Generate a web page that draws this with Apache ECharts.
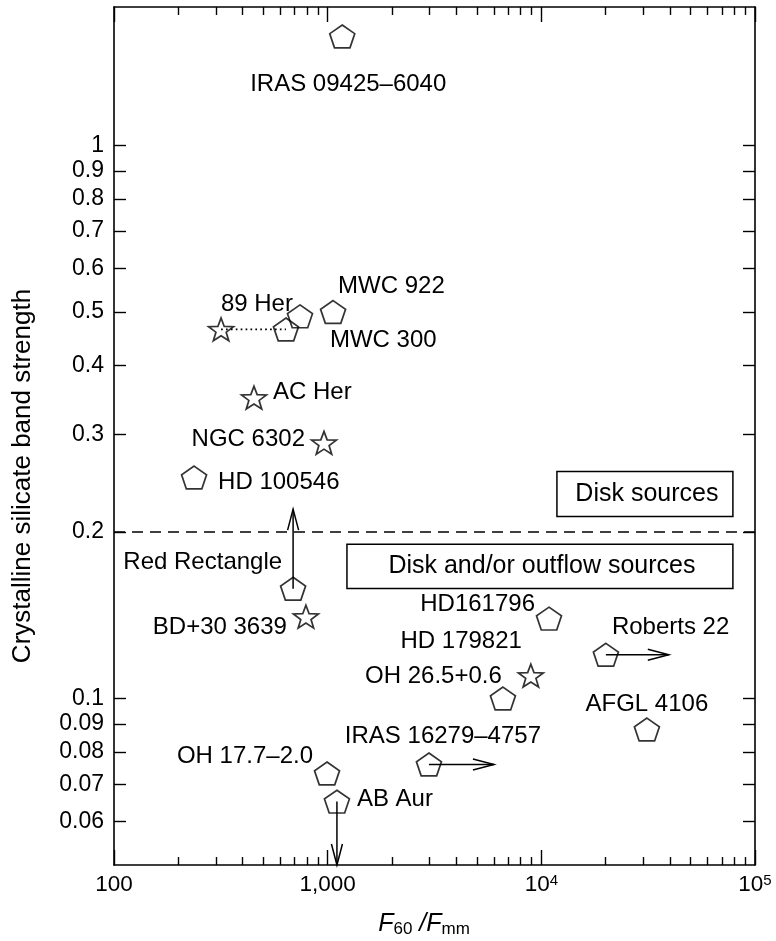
<!DOCTYPE html>
<html>
<head>
<meta charset="utf-8">
<script src="https://cdn.jsdelivr.net/npm/echarts@6/dist/echarts.min.js"></script>
<style>
  html, body { margin: 0; padding: 0; background: #ffffff; }
  #chart { width: 776px; height: 941px; }
</style>
</head>
<body>
<div id="chart"></div>
<script>
// ---- Sources: F60/Fmm flux ratio vs crystalline silicate band strength ----
const sourceNames = [
  'IRAS 09425–6040', 'MWC 922', 'MWC 300', '89 Her', '89 Her', 'AC Her',
  'NGC 6302', 'HD 100546', 'Red Rectangle', 'BD+30 3639', 'HD161796',
  'Roberts 22', 'HD 179821', 'OH 26.5+0.6', 'AFGL 4106', 'IRAS 16279–4757',
  'OH 17.7–2.0', 'AB Aur'
];
const fluxRatio = [
  1170, 1060, 742, 317, 638, 452,
  961, 237, 689, 791, 10860,
  20050, 6610, 8930, 31190, 2978,
  993, 1105
];
const bandStrength = [
  1.575, 0.500, 0.491, 0.465, 0.465, 0.350,
  0.290, 0.251, 0.158, 0.1406, 0.1395,
  0.120, 0.100, 0.110, 0.0879, 0.0760,
  0.0732, 0.0651
];
const markerKind = [
  'pentagon', 'pentagon', 'pentagon', 'star', 'pentagon', 'star',
  'star', 'pentagon', 'pentagon', 'star', 'pentagon',
  'pentagon', 'pentagon', 'star', 'pentagon', 'pentagon',
  'pentagon', 'pentagon'
];

// Limits: arrows running from a source to its bound
const limitSources = ['Red Rectangle', 'Roberts 22', 'IRAS 16279–4757', 'AB Aur'];
const limitX = [689, 39500, 6000, 1105];
const limitY = [0.22, 0.120, 0.0760, 0.05];

// Two measurements of 89 Her joined by a dotted line
const linkedPair = [3, 4];

// Boundary between the two regimes
const regimeBoundary = 0.2;
const regimeNames = ['Disk sources', 'Disk and/or outflow sources'];
const regimeBoxX0 = [11830, 1231];
const regimeBoxX1 = [78800, 78800];
const regimeBoxYTop = [0.2573, 0.1900];
const regimeBoxYBottom = [0.2134, 0.1581];

// Axis ranges and ticks
const xRange = [100, 100000];
const yRange = [0.05, 1.78];
const xTickMajor = [100, 1000, 10000, 100000];
const xTickLabels = ['100', '1,000', '10{sup|4}', '10{sup|5}'];
const xTickMinor = [200, 300, 400, 500, 600, 700, 800, 900,
                    2000, 3000, 4000, 5000, 6000, 7000, 8000, 9000,
                    20000, 30000, 40000, 50000, 60000, 70000, 80000, 90000];
const yTicks = [0.06, 0.07, 0.08, 0.09, 0.1, 0.2, 0.3, 0.4, 0.5, 0.6, 0.7, 0.8, 0.9, 1];
const yTickLabels = ['0.06', '0.07', '0.08', '0.09', '0.1', '0.2', '0.3', '0.4', '0.5', '0.6', '0.7', '0.8', '0.9', '1'];

// ---- Presentation ----
const FONT = '"Liberation Sans", Arial, Helvetica, sans-serif';
const INK = '#000000';

// Where each name sits relative to its marker: [align, dx, dy]
const labelPlacement = {
  'IRAS 09425–6040': ['center', 6, 48],
  'MWC 922': ['left', 5, -26],
  'MWC 300': ['left', 30, 24],
  '89 Her': ['right', 7, -25],
  'AC Her': ['left', 19, -5],
  'NGC 6302': ['right', -19, -3],
  'HD 100546': ['left', 24, 5],
  'Red Rectangle': ['right', -11, -26],
  'BD+30 3639': ['right', -19, 11],
  'HD161796': ['right', -14, -14],
  'Roberts 22': ['left', 6, -27],
  'HD 179821': ['right', 19, -57],
  'OH 26.5+0.6': ['right', -29, 1],
  'AFGL 4106': ['center', 0, -25],
  'IRAS 16279–4757': ['center', 14, -28],
  'OH 17.7–2.0': ['right', -14, -17],
  'AB Aur': ['left', 20, -2]
};

function polygonPath(pts) {
  return 'path://M' + pts.map(p => p[0].toFixed(3) + ',' + p[1].toFixed(3)).join('L') + 'Z';
}
const pentagonSymbol = polygonPath([0, 1, 2, 3, 4].map(k => {
  const a = -Math.PI / 2 + k * 2 * Math.PI / 5;
  return [Math.cos(a) * 10, Math.sin(a) * 10];
}));
const starSymbol = polygonPath([0, 1, 2, 3, 4, 5, 6, 7, 8, 9].map(k => {
  const r = k % 2 ? 4.1 : 10;
  const a = -Math.PI / 2 + k * Math.PI / 5;
  return [Math.cos(a) * r, Math.sin(a) * r];
}));

function sameValue(a, b) {
  return Math.abs(Math.log10(a) - Math.log10(b)) < 1e-6;
}

const pointData = sourceNames.map((name, i) => ({
  name: name,
  value: [fluxRatio[i], bandStrength[i]],
  symbol: markerKind[i] === 'star' ? starSymbol : pentagonSymbol
}));

// indices of the points that carry a name label (89 Her is named once)
const labelledIndex = sourceNames.map((n, i) => i).filter(i => i !== linkedPair[0]);
const labelData = labelledIndex.map(i => [fluxRatio[i], bandStrength[i], i]);

const limitData = limitSources.map((s, i) => {
  const k = sourceNames.indexOf(s);
  return [fluxRatio[k], bandStrength[k], limitX[i], limitY[i]];
});

const regimeData = regimeNames.map((n, i) =>
  [regimeBoxX0[i], regimeBoxYTop[i], regimeBoxX1[i], regimeBoxYBottom[i]]);

const axisLineStyle = { color: INK, width: 1.6 };
const tickLineStyle = { color: INK, width: 1.4 };

function xAxisDef(position, ticks, tickLen, withLine, withLabels) {
  return {
    type: 'log', logBase: 10, min: xRange[0], max: xRange[1], position: position,
    axisLine: { show: withLine, onZero: false, lineStyle: axisLineStyle },
    axisTick: { show: true, inside: true, length: tickLen, customValues: ticks, lineStyle: tickLineStyle },
    minorTick: { show: false },
    splitLine: { show: false },
    axisLabel: withLabels ? {
      show: true,
      customValues: xTickMajor,
      margin: 8,
      showMinLabel: true,
      showMaxLabel: true,
      color: INK,
      fontFamily: FONT,
      fontSize: 22.5,
      lineHeight: 24,
      formatter: v => {
        const k = xTickMajor.findIndex(t => sameValue(t, v));
        return k >= 0 ? xTickLabels[k] : '';
      },
      rich: {
        sup: { fontFamily: FONT, fontSize: 15, lineHeight: 15, verticalAlign: 'top', color: INK }
      }
    } : { show: false }
  };
}

function yAxisDef(position, withLabels) {
  return {
    type: 'log', logBase: 10, min: yRange[0], max: yRange[1], position: position,
    axisLine: { show: true, onZero: false, lineStyle: axisLineStyle },
    axisTick: { show: true, inside: true, length: 12, customValues: yTicks, lineStyle: tickLineStyle },
    minorTick: { show: false },
    splitLine: { show: false },
    axisLabel: withLabels ? {
      show: true,
      customValues: yTicks,
      margin: 10,
      showMinLabel: true,
      showMaxLabel: true,
      color: INK,
      fontFamily: FONT,
      fontSize: 23,
      formatter: v => {
        const k = yTicks.findIndex(t => sameValue(t, v));
        return k >= 0 ? yTickLabels[k] : '';
      }
    } : { show: false }
  };
}

const chart = echarts.init(document.getElementById('chart'), null, { renderer: 'canvas' });

chart.setOption({
  animation: false,
  backgroundColor: '#ffffff',
  grid: { left: 114, right: 21, top: 7, bottom: 76, containLabel: false, outerBoundsMode: 'none' },
  xAxis: [
    xAxisDef('bottom', xTickMajor, 15, true, true),
    xAxisDef('bottom', xTickMinor, 8, false, false),
    xAxisDef('top', xTickMajor, 15, true, false),
    xAxisDef('top', xTickMinor, 8, false, false)
  ],
  yAxis: [
    yAxisDef('left', true),
    yAxisDef('right', false)
  ],
  graphic: [
    {
      type: 'text', x: 23, y: 476, rotation: Math.PI / 2, silent: true,
      style: {
        text: 'Crystalline silicate band strength',
        font: '26px ' + FONT, fill: INK, align: 'center', verticalAlign: 'middle'
      }
    },
    {
      type: 'text', x: 424, y: 924, silent: true,
      style: {
        text: '{i|F}{sub|60}{i| /F}{sub|mm}',
        align: 'center', verticalAlign: 'middle', fill: INK,
        rich: {
          i: { fontFamily: FONT, fontSize: 25, fontStyle: 'italic', lineHeight: 28, fill: INK },
          sub: { fontFamily: FONT, fontSize: 17, lineHeight: 17, verticalAlign: 'bottom', padding: [8, 0, 0, 0], fill: INK }
        }
      }
    }
  ],
  series: [
    {
      // regime boxes
      type: 'custom', coordinateSystem: 'cartesian2d', silent: true, z: 1,
      data: regimeData,
      encode: { x: [0, 2], y: [1, 3] },
      renderItem: (params, api) => {
        const p0 = api.coord([api.value(0), api.value(1)]);
        const p1 = api.coord([api.value(2), api.value(3)]);
        return {
          type: 'group',
          children: [
            {
              type: 'rect',
              shape: { x: p0[0], y: p0[1], width: p1[0] - p0[0], height: p1[1] - p0[1] },
              style: { fill: 'none', stroke: INK, lineWidth: 1.5 }
            },
            {
              type: 'text',
              x: (p0[0] + p1[0]) / 2 + 2, y: (p0[1] + p1[1]) / 2,
              style: {
                text: regimeNames[params.dataIndex], fill: INK,
                font: '25px ' + FONT, align: 'center', verticalAlign: 'middle'
              }
            }
          ]
        };
      }
    },
    {
      // 89 Her connector
      type: 'line', silent: true, z: 2,
      data: linkedPair.map(k => [fluxRatio[k], bandStrength[k]]),
      symbol: 'none',
      lineStyle: { color: INK, width: 1.7, type: [1.7, 3.2] }
    },
    {
      // limit arrows
      type: 'custom', coordinateSystem: 'cartesian2d', silent: true, z: 3,
      data: limitData,
      encode: { x: [0, 2], y: [1, 3] },
      renderItem: (params, api) => {
        const p0 = api.coord([api.value(0), api.value(1)]);
        const p1 = api.coord([api.value(2), api.value(3)]);
        const dx = p1[0] - p0[0], dy = p1[1] - p0[1];
        const len = Math.hypot(dx, dy) || 1;
        const ux = dx / len, uy = dy / len;
        const headLen = 21, headHalf = 5.5;
        const bx = p1[0] - ux * headLen, by = p1[1] - uy * headLen;
        const left = [bx - uy * headHalf, by + ux * headHalf];
        const right = [bx + uy * headHalf, by - ux * headHalf];
        return {
          type: 'group',
          children: [
            { type: 'line', shape: { x1: p0[0], y1: p0[1], x2: p1[0], y2: p1[1] },
              style: { stroke: INK, lineWidth: 1.5 } },
            { type: 'polyline', shape: { points: [left, p1, right] },
              style: { stroke: INK, fill: 'none', lineWidth: 1.5 } }
          ]
        };
      }
    },
    {
      // source markers
      type: 'scatter', z: 4,
      data: pointData,
      symbolSize: [25, 24],
      symbolKeepAspect: true,
      itemStyle: { color: 'rgba(255,255,255,0)', borderColor: INK, borderWidth: 1.7 },
      label: { show: false },
      emphasis: { disabled: true },
      markLine: {
        silent: true,
        symbol: ['none', 'none'],
        label: { show: false },
        lineStyle: { color: INK, width: 1.5, type: [11, 7] },
        data: [{ yAxis: regimeBoundary }]
      }
    },
    {
      // source names
      type: 'custom', coordinateSystem: 'cartesian2d', silent: true, z: 5,
      data: labelData,
      encode: { x: 0, y: 1 },
      renderItem: (params, api) => {
        const p = api.coord([api.value(0), api.value(1)]);
        const name = sourceNames[api.value(2)];
        const place = labelPlacement[name];
        return {
          type: 'text',
          x: p[0] + place[1], y: p[1] + place[2],
          style: {
            text: name, fill: INK, font: '24px ' + FONT,
            align: place[0], verticalAlign: 'middle'
          }
        };
      }
    }
  ]
});
</script>
</body>
</html>
